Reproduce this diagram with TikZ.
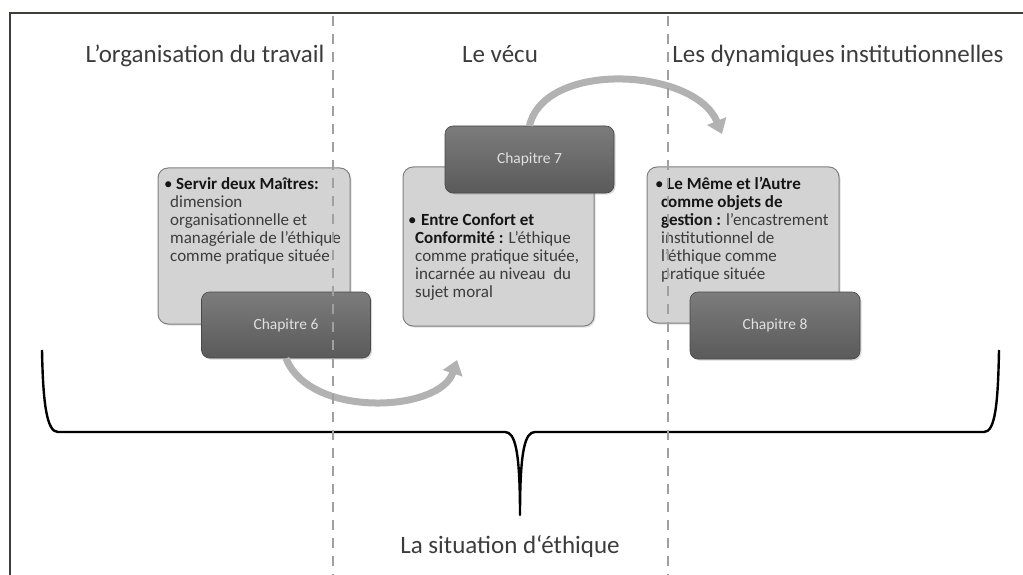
\documentclass[tikz,border=0pt]{standalone}
\usepackage{fontspec}
\setmainfont{Carlito}
\usetikzlibrary{arrows.meta,shadows}
\definecolor{textgray}{HTML}{3C3C3C}
\definecolor{textdark}{HTML}{151515}
\definecolor{boxlight}{HTML}{D3D3D3}
\definecolor{boxline}{HTML}{808080}
\definecolor{darktop}{HTML}{7C7C7C}
\definecolor{darkbot}{HTML}{5A5A5A}
\definecolor{arrowgray}{HTML}{B2B2B2}
\definecolor{dashgray}{HTML}{A0A0A0}
\definecolor{framecol}{HTML}{3E3E38}
\begin{document}
\begin{tikzpicture}[x=1pt,y=-1pt,
  lightbox/.style={draw=boxline, line width=1pt, fill=boxlight, rounded corners=10pt,
    minimum width=192pt, minimum height=156pt, inner sep=0pt,
    drop shadow={shadow xshift=1.5pt, shadow yshift=-1.5pt, opacity=0.25}},
  darkbox/.style={draw=darkbot!80!black, line width=0.6pt, top color=darktop, bottom color=darkbot,
    rounded corners=8pt, minimum width=169pt, minimum height=66pt, inner sep=0pt,
    text=white!88!black, font=\fontsize{15.5}{18}\selectfont,
    drop shadow={shadow xshift=1.5pt, shadow yshift=-1.5pt, opacity=0.3}},
  bodytext/.style={font=\fontsize{17}{18}\selectfont, align=left, inner sep=0pt, text=textgray, anchor=base west},
  header/.style={font=\fontsize{25}{28}\selectfont, text=textgray, inner sep=0pt, anchor=base},
  bigarrow/.style={draw=arrowgray, line width=7pt, -{Triangle[length=14pt,width=20pt]}},
  divider/.style={draw=dashgray, line width=2.2pt, dash pattern=on 10pt off 8pt},
  frameline/.style={draw=framecol, line width=1.8pt},
  brace/.style={draw=black, line width=2.4pt, line join=round}
]
\useasboundingbox (0,0) rectangle (1023,575);

% frame
\coordinate (fTR) at (1023,13);
\coordinate (fTL) at (10,13);
\coordinate (fBL) at (10,575);
\draw[frameline] (fTR) -- (fTL) -- (fBL);

% headers
\node[header] (h1) at (205,63) {L’organisation du travail};
\node[header] (h2) at (500,63) {Le vécu};
\node[header] (h3) at (838,63) {Les dynamiques institutionnelles};
\node[header] (h4) at (510,553) {La situation d‘éthique};

% boxes
\node[lightbox] (L1) at (254,246) {};
\node[darkbox] (C6) at (286,325) {Chapitre 6};
\node[lightbox, minimum height=159pt, minimum width=191pt] (L2) at (498.5,246.5) {};
\node[darkbox, minimum height=67pt] (C7) at (529.5,159.5) {Chapitre 7};
\node[lightbox] (L3) at (743,245) {};
\node[darkbox, minimum height=67pt, minimum width=170pt] (C8) at (775,325.5) {Chapitre 8};

% box texts (anchor base = baseline of the last line)
\node[bodytext] (t1) at (164,261) {%
\makebox[12pt][l]{\textcolor{textdark}{•}}\textbf{\textcolor{textdark}{Servir deux Maîtres:}}\\
\hspace*{6pt}dimension\\
\hspace*{6pt}organisationnelle et\\
\hspace*{6pt}managériale de l’éthique\\
\hspace*{6pt}comme pratique située};
\node[bodytext] (t2) at (408,297) {%
\makebox[13pt][l]{\textcolor{textdark}{•}}\textbf{\textcolor{textdark}{Entre Confort et}}\\
\hspace*{7pt}\textbf{\textcolor{textdark}{Conformité :}} L’éthique\\
\hspace*{7pt}comme pratique située,\\
\hspace*{7pt}incarnée au niveau\ \ du\\
\hspace*{7pt}sujet moral};
\node[bodytext] (t3) at (655,279) {%
\makebox[12pt][l]{\textcolor{textdark}{•}}\textbf{\textcolor{textdark}{Le Même et l’Autre}}\\
\hspace*{6pt}\textbf{\textcolor{textdark}{comme objets de}}\\
\hspace*{6pt}\textbf{\textcolor{textdark}{gestion :}} l’encastrement\\
\hspace*{6pt}institutionnel de\\
\hspace*{6pt}l’éthique comme\\
\hspace*{6pt}pratique située};

% curved arrows
\coordinate (a1end) at (457,360);
\coordinate (a2end) at (722,134);
\draw[bigarrow] (C6.south) .. controls (310,419) and (440,412) .. (a1end);
\draw[bigarrow] (C7.north) .. controls (545,60) and (695,68) .. (a2end);

% brace
\coordinate (bL) at (42,350);
\coordinate (bT) at (520,515);
\coordinate (bR) at (999,350);
\draw[brace] (bL) .. controls (43,405) and (47,432) .. (58,432) -- (505,432)
  .. controls (515,432) and (520,450) .. (bT)
  .. controls (520,450) and (525,432) .. (535,432) -- (984,432)
  .. controls (995,432) and (998,405) .. (bR);

% dashed dividers
\coordinate (d1t) at (333,16);
\coordinate (d1b) at (333,575);
\coordinate (d2t) at (668,16);
\coordinate (d2b) at (668,575);
\draw[divider] (d1t) -- (d1b);
\draw[divider] (d2t) -- (d2b);
\end{tikzpicture}
\end{document}
